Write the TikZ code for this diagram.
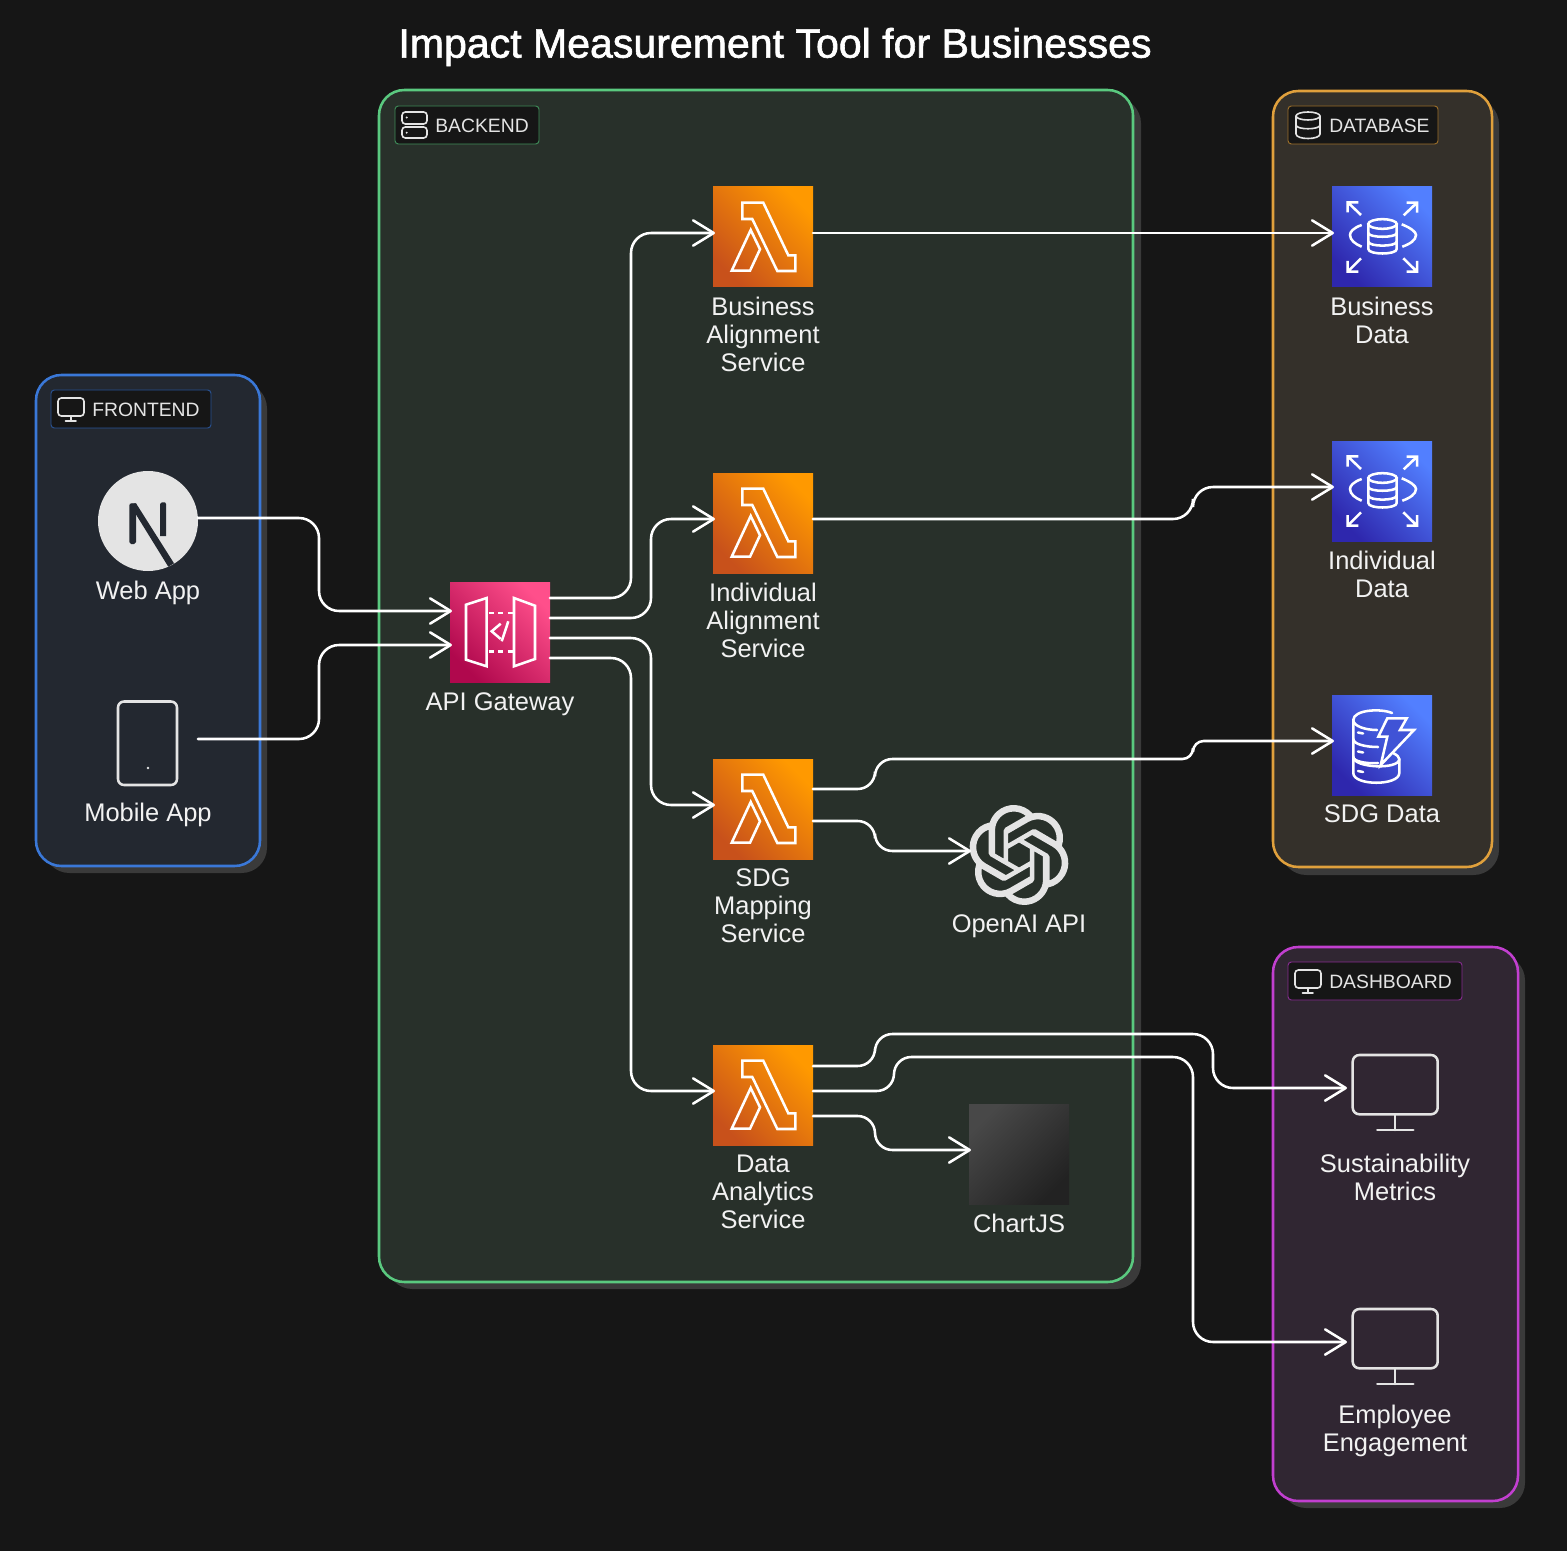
\documentclass[tikz,border=0pt]{standalone}
\usepackage{fontspec}
\setmainfont{Liberation Sans}
\newfontfamily\titlefont[FakeBold=1.5]{Liberation Sans}
\usetikzlibrary{arrows.meta,calc,svg.path}
\definecolor{bgc}{HTML}{161616}
\definecolor{shadowc}{HTML}{3A3A3A}
\definecolor{iconc}{HTML}{E4E4E4}
\definecolor{bef}{HTML}{28302A}\definecolor{bes}{HTML}{5AC97F}
\definecolor{fef}{HTML}{232830}\definecolor{fes}{HTML}{3A78D8}
\definecolor{dbf}{HTML}{34302A}\definecolor{dbs}{HTML}{E0A03C}
\definecolor{daf}{HTML}{302632}\definecolor{das}{HTML}{C23FD0}
\definecolor{lamA}{HTML}{C8511B}\definecolor{lamB}{HTML}{FF9900}
\definecolor{gwA}{HTML}{B0084D}\definecolor{gwB}{HTML}{FF4F8B}
\definecolor{dbA}{HTML}{2E27AD}\definecolor{dbB}{HTML}{527FFF}
\definecolor{dbmid}{HTML}{4053D6}
\definecolor{chA}{HTML}{222222}\definecolor{chB}{HTML}{484848}
\tikzset{
  x=0.75pt,y=-0.75pt,
  group/.style n args={2}{draw=#2,fill=#1,line width=1.9pt,rounded corners=19pt},
  shadowbox/.style={fill=shadowc,rounded corners=19pt},
  tagbox/.style={draw=#1,fill=bgc,line width=0.7pt,rounded corners=2.5pt},
  tagtext/.style={font=\fontsize{14.5}{18}\selectfont,text=iconc,anchor=west,inner sep=0pt},
  tagicon/.style={draw=iconc,line width=1.2pt,line cap=round,line join=round},
  lab/.style={font=\fontsize{19.1}{21}\selectfont,text=white!95!black,align=center,inner sep=0pt},
  tile/.style={minimum size=75pt,inner sep=0pt,outer sep=0pt},
  lam/.style={tile,bottom color=lamA,top color=lamB,shading angle=-45},
  gwb/.style={tile,bottom color=gwA,top color=gwB,shading angle=-45},
  dbb/.style={tile,bottom color=dbA,top color=dbB,shading angle=-45},
  chartb/.style={tile,bottom color=chA,middle color=chA,top color=chB,shading angle=45},
  ghost/.style={tile},
  glyph/.style={draw=white,line width=1.9pt,line join=miter},
  mono/.style={draw=iconc,line width=1.9pt,line join=round,line cap=round},
  conn/.style={draw=white,line width=1.9pt,rounded corners=15pt,line cap=round,
     -{Straight Barb[length=15.5pt,width=19pt,round]},shorten >=-1.5pt},
  lambdaicon/.pic={
    \draw[glyph] (29.3,15.7)--(50.3,15.7)--(75.3,68.3)--(82.3,68.3)--(82.3,84)--(64.3,84)--(39.3,32)--(29.3,32)--cycle;
    \draw[glyph] (37.7,43)--(47,62.3)--(37,83.7)--(18.7,83.7)--cycle;
  },
  gatewayicon/.pic={
    \draw[glyph] (16,22.7)--(36.7,16)--(36.7,84.3)--(16,77.7)--cycle;
    \draw[glyph] (64,16)--(85,23.7)--(85,77)--(64,84.3)--cycle;
    \draw[glyph,dash pattern=on 4pt off 3.2pt] (38.5,31)--(63.5,31);
    \draw[glyph,dash pattern=on 4pt off 3.2pt] (38.5,69.3)--(63.5,69.3);
    \draw[glyph] (50.7,41.7)--(41.7,49.3)--(50.7,57);
    \draw[glyph] (58.3,39.3)--(51.7,59.3);
  },
  rdsicon/.pic={
    \draw[glyph] (29,28)--(15.7,15.3) (15.7,25.5)--(15.7,15.3)--(26.3,15.3);
    \draw[glyph] (71.7,28.3)--(85,15.7) (74.7,15.7)--(85,15.7)--(85,25.7);
    \draw[glyph] (29,71.3)--(15.7,84.7) (15.7,74)--(15.7,84.7)--(26.3,84.7);
    \draw[glyph] (71.3,71.3)--(85,84.7) (74.7,84.7)--(85,84.7)--(85,74);
    \draw[glyph] (29.7,38) .. controls (21,41) and (18,45) .. (18,48) .. controls (18,53) and (23,57) .. (29.7,59.7);
    \draw[glyph] (69.7,37.3) .. controls (79,41) and (84,45) .. (84,48) .. controls (84,53) and (78,57) .. (70.3,59.7);
    \draw[glyph] (50.5,37) ellipse [x radius=10.7pt,y radius=3.6pt];
    \draw[glyph] (36.3,37)--(36.3,62) .. controls (36.3,68) and (64.7,68) .. (64.7,62)--(64.7,37);
    \draw[glyph] (36.3,46) .. controls (36.3,51) and (64.7,51) .. (64.7,46);
    \draw[glyph] (36.3,54.5) .. controls (36.3,60) and (64.7,60) .. (64.7,54.5);
  },
  dynamoicon/.pic={
    \draw[glyph,line cap=round] (60,18) .. controls (48,13) and (21.3,15) .. (21.3,25) -- (21.3,78) .. controls (21.3,91) and (67.3,91) .. (67.3,78) -- (67.3,64) .. controls (67.3,62) and (65,60) .. (61,58);
    \draw[glyph,line cap=round] (21.3,25) .. controls (21.3,31) and (33,35) .. (45,35);
    \draw[glyph,line cap=round] (21.3,44) .. controls (21.3,49) and (33,52) .. (46,52);
    \draw[glyph,line cap=round] (21.3,62) .. controls (21.3,66) and (33,69) .. (46,68);
    \draw[glyph,line cap=round] (21.3,62) .. controls (21.3,73) and (67.3,75) .. (67.3,64);
    \draw[glyph,line cap=round] (26,37.5)--(31,38.5) (26,56.5)--(31,57.5) (26,76)--(31,77);
    \draw[glyph,fill=dbmid] (55.3,23.3)--(74.7,23.3)--(68,35)--(82,35)--(48.7,70)--(55.3,41.7)--(46.3,41.7)--cycle;
  },
  monitoricon/.pic={
    \draw[mono,rounded corners=5pt] (7.7,9)rectangle(92.7,68.3);
    \draw[mono] (50,68.3)--(50,84) (32.3,84)--(68.3,84);
  },
}
\begin{document}
\begin{tikzpicture}
\useasboundingbox (0,0) rectangle (1567,1551);
\fill[bgc] (0,0) rectangle (1567,1551);
% title
\node[inner sep=0pt,text=white,font=\titlefont\fontsize{30.8}{36}\selectfont] (title) at (775,47) {Impact Measurement Tool for Businesses};
% group shadows
\fill[shadowbox] (44,383) rectangle (267,873);
\fill[shadowbox] (387,98) rectangle (1141,1289);
\fill[shadowbox] (1281,99) rectangle (1499,875);
\fill[shadowbox] (1281,955) rectangle (1525,1508);
% groups
\node[group={fef}{fes},minimum width=168pt,minimum height=368.25pt,inner sep=0pt] (frontend) at (148,620.5) {};
\node[group={bef}{bes},minimum width=565.5pt,minimum height=894pt,inner sep=0pt] (backend) at (756,686) {};
\node[group={dbf}{dbs},minimum width=164.25pt,minimum height=582pt,inner sep=0pt] (database) at (1382.5,479) {};
\node[group={daf}{das},minimum width=183.75pt,minimum height=415.5pt,inner sep=0pt] (dashboard) at (1395.5,1224) {};
% tags
\draw[tagbox=fes!70!black] (51,390) rectangle (211,428);
\node[tagtext] (tf) at (92,410) {FRONTEND};
\draw[tagbox=bes!70!black] (395,106) rectangle (539,144);
\node[tagtext] (tb) at (435,126) {BACKEND};
\draw[tagbox=dbs!70!black] (1288,106) rectangle (1438,144);
\node[tagtext] (tdb) at (1329,126) {DATABASE};
\draw[tagbox=das!70!black] (1288,962) rectangle (1462,1000);
\node[tagtext] (tda) at (1329,982) {DASHBOARD};
% tag icons
\draw[tagicon,rounded corners=2.5pt] (58,398) rectangle (84,416);
\draw[tagicon] (71,416)--(71,421) (65.5,421)--(76,421);
\draw[tagicon,rounded corners=2.5pt] (1295,970) rectangle (1321,988);
\draw[tagicon] (1308,988)--(1308,993) (1302.5,993)--(1313,993);
\draw[tagicon,rounded corners=2.5pt] (402,112) rectangle (427,124);
\draw[tagicon,rounded corners=2.5pt] (402,127) rectangle (427,138);
\fill[iconc] (406.7,117.5) circle (0.8pt) (406.7,132.7) circle (0.8pt);
\draw[tagicon] (1308,116) ellipse [x radius=9pt,y radius=3pt];
\draw[tagicon] (1296,116)--(1296,134) .. controls (1296,140) and (1320,140) .. (1320,134)--(1320,116);
\draw[tagicon] (1296,125) .. controls (1296,130) and (1320,130) .. (1320,125);
% frontend
\node[circle,fill=iconc,minimum size=75pt,inner sep=0pt,outer sep=0pt] (web) at (148,521) {};
\fill[fef] (129.3,505.5)--(131,503.3)--(136,503.3)--(136,542)--(134,544)--(131,544)--(129.3,542)--cycle;
\fill[fef] (160,504)--(162,502.3)--(165,502.3)--(166,504)--(166,536)--(160,536)--cycle;
\fill[fef] (129.5,504)--(136,503.3)--(174,563.3)--(168.3,566.7)--cycle;
\node[lab] (webl) at (148,593) {Web App};
\node[ghost] (mob) at (148,739) {};
\draw[mono,rounded corners=4.5pt] (118,701.5) rectangle (177,785);
\fill[iconc] (148,768) circle (1.1pt);
\node[lab] (mobl) at (148,815) {Mobile App};
% backend
\node[gwb] (gw) at (500,632) {}; \pic at (gw.north west) {gatewayicon};
\node[lab] (gwl) at (500,704) {API Gateway};
\node[lam] (l1) at (763,237) {}; \pic at (l1.north west) {lambdaicon};
\node[lab] (l1l) at (763,334) {Business\\Alignment\\Service};
\node[lam] (l2) at (763,523) {}; \pic at (l2.north west) {lambdaicon};
\node[lab] (l2l) at (763,620) {Individual\\Alignment\\Service};
\node[lam] (l3) at (763,809) {}; \pic at (l3.north west) {lambdaicon};
\node[lab] (l3l) at (763,906) {SDG\\Mapping\\Service};
\node[lam] (l4) at (763,1095) {}; \pic at (l4.north west) {lambdaicon};
\node[lab] (l4l) at (763,1192) {Data\\Analytics\\Service};
\node[ghost] (oa) at (1019,855) {};
\begin{scope}[shift={(969,805)},xscale=3.125,yscale=-3.125]
\fill[iconc,even odd rule] svg {M 22.2819 9.8211 a 5.9847 5.9847 0 0 0 -0.5157 -4.9108 a 6.0462 6.0462 0 0 0 -6.5098 -2.9 A 6.0651 6.0651 0 0 0 4.9807 4.1818 a 5.9847 5.9847 0 0 0 -3.9977 2.9 a 6.0462 6.0462 0 0 0 0.7427 7.0966 a 5.98 5.98 0 0 0 0.511 4.9107 a 6.051 6.051 0 0 0 6.5146 2.9001 A 5.9847 5.9847 0 0 0 13.2599 24 a 6.0557 6.0557 0 0 0 5.7718 -4.2058 a 5.9894 5.9894 0 0 0 3.9977 -2.9001 a 6.0557 6.0557 0 0 0 -0.7475 -7.0729 z M 13.2599 22.4292 a 4.4755 4.4755 0 0 1 -2.8764 -1.0408 l 0.1419 -0.0804 l 4.7783 -2.7582 a 0.7948 0.7948 0 0 0 0.3927 -0.6813 v -6.7369 l 2.02 1.1686 l 0.038 0.052 v 5.5826 a 4.504 4.504 0 0 1 -4.4945 4.4944 z M 3.5992 18.3038 a 4.4708 4.4708 0 0 1 -0.5346 -3.0137 l 0.142 0.0852 l 4.783 2.7582 a 0.7712 0.7712 0 0 0 0.7806 0 l 5.8428 -3.3685 v 2.3324 l -0.0332 0.0615 L 9.74 19.9502 a 4.4992 4.4992 0 0 1 -6.1408 -1.6464 z M 2.3408 7.8956 a 4.485 4.485 0 0 1 2.3655 -1.9728 V 11.6 a 0.7664 0.7664 0 0 0 0.3879 0.6765 l 5.8144 3.3543 l -2.0201 1.1685 l -0.071 0 l -4.8303 -2.7865 A 4.504 4.504 0 0 1 2.3408 7.872 z M 18.9371 11.7514 L 13.1038 8.364 L 15.1192 7.2 l 0.071 0 l 4.8303 2.7913 a 4.4944 4.4944 0 0 1 -0.6765 8.1042 v -5.6772 a 0.79 0.79 0 0 0 -0.407 -0.667 z M 20.9478 8.7283 l -0.142 -0.0852 l -4.7735 -2.7818 a 0.7759 0.7759 0 0 0 -0.7854 0 L 9.409 9.2297 V 6.8974 l 0.0284 -0.0615 l 4.8303 -2.7866 a 4.4992 4.4992 0 0 1 6.6802 4.66 z M 8.3065 12.863 l -2.02 -1.1638 l -0.038 -0.0567 V 6.0742 a 4.4992 4.4992 0 0 1 7.3757 -3.4537 l -0.142 0.0805 L 8.704 5.459 a 0.7948 0.7948 0 0 0 -0.3927 0.6813 z M 9.4041 10.4976 l 2.602 -1.4998 l 2.6069 1.4998 v 2.9994 l -2.5974 1.4997 l -2.6067 -1.4997 z};
\end{scope}
\node[lab] (oal) at (1019,926) {OpenAI API};
\node[chartb] (ch) at (1019,1154) {};
\node[lab] (chl) at (1019,1223) {ChartJS};
% database
\node[dbb] (d1) at (1382,237) {}; \pic at (d1.north west) {rdsicon};
\node[lab] (d1l) at (1382,320) {Business\\Data};
\node[dbb] (d2) at (1382,491) {}; \pic at (d2.north west) {rdsicon};
\node[lab] (d2l) at (1382,574) {Individual\\Data};
\node[dbb] (d3) at (1382,745) {}; \pic at (d3.north west) {dynamoicon};
\node[lab] (d3l) at (1382,814) {SDG Data};
% dashboard
\node[ghost] (m1) at (1395,1088) {};
\pic at (1345,1046) {monitoricon};
\node[lab] (m1l) at (1395,1177) {Sustainability\\Metrics};
\node[ghost] (m2) at (1395,1342) {};
\pic at (1345,1300) {monitoricon};
\node[lab] (m2l) at (1395,1431) {Employee\\Engagement};
% connectors
\draw[conn] ($(web.east)+(0,-3)$) -- (319,518) -- (319,611) -- ($(gw.west)+(0,-21)$);
\draw[conn] (mob.east) -- (319,739) -- (319,645) -- ($(gw.west)+(0,13)$);
\draw[conn] ($(gw.east)+(0,-34)$) -- (631,598) -- (631,233) -- ($(l1.west)+(0,-4)$);
\draw[conn] ($(gw.east)+(0,-14)$) -- (651,618) -- (651,519) -- ($(l2.west)+(0,-4)$);
\draw[conn] ($(gw.east)+(0,6)$) -- (651,638) -- (651,805) -- ($(l3.west)+(0,-4)$);
\draw[conn] ($(gw.east)+(0,26)$) -- (631,658) -- (631,1091) -- ($(l4.west)+(0,-4)$);
\draw[conn] ($(l1.east)+(0,-4)$) -- ($(d1.west)+(0,-4)$);
\draw[conn] ($(l2.east)+(0,-4)$) -- (1193,519) -- (1193,487) -- ($(d2.west)+(0,-4)$);
\draw[conn,rounded corners=13pt] ($(l3.east)+(0,-20)$) -- (875,789) -- (875,759) [rounded corners=8pt] -- (1193,759) -- (1193,741) -- ($(d3.west)+(0,-4)$);
\draw[conn,rounded corners=13pt] ($(l3.east)+(0,12)$) -- (875,821) -- (875,851) -- ($(oa.west)+(0,-4)$);
\draw[conn,rounded corners=13pt] ($(l4.east)+(0,-29)$) -- (875,1066) -- (875,1034) [rounded corners=15pt] -- (1213,1034) -- (1213,1088) -- (m1.west);
\draw[conn,rounded corners=13pt] ($(l4.east)+(0,-4)$) -- (894,1091) -- (894,1057) [rounded corners=15pt] -- (1193,1057) -- (1193,1342) -- (m2.west);
\draw[conn,rounded corners=13pt] ($(l4.east)+(0,21)$) -- (875,1116) -- (875,1150) -- ($(ch.west)+(0,-4)$);
\end{tikzpicture}
\end{document}
